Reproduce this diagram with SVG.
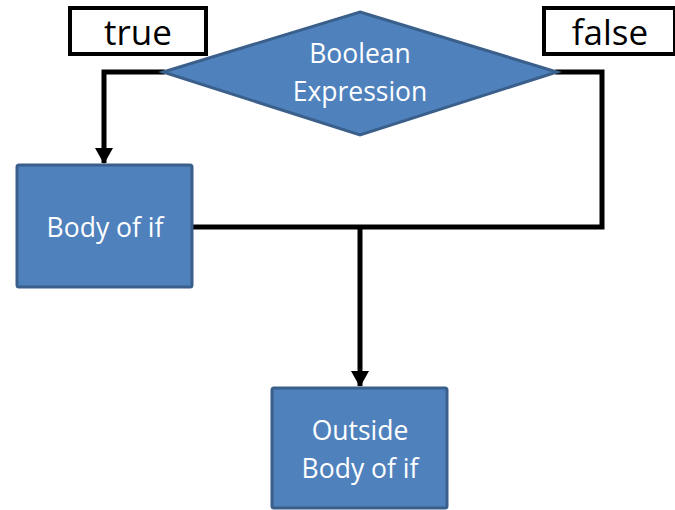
<svg xmlns="http://www.w3.org/2000/svg" width="675" height="510" viewBox="0 0 675 510">
<style>
.node{fill:#4F81BD;stroke:#3A5F8B;stroke-width:3}
.lbl{fill:#fff;font-family:"Open Sans","Liberation Sans",sans-serif;font-size:26.5px;text-anchor:middle}
.tag{fill:#fff;stroke:#000;stroke-width:4}
.tagt{fill:#000;font-family:"Open Sans","Liberation Sans",sans-serif;font-size:35px;text-anchor:middle}
.conn{fill:none;stroke:#000;stroke-width:5;stroke-linejoin:miter}
</style>
<defs>
<marker id="arr" markerWidth="4" markerHeight="4" refX="3" refY="2" orient="auto" markerUnits="strokeWidth">
<path d="M0,0.2 L3.2,2 L0,3.8 z" fill="#000"/>
</marker>
</defs>
<g id="true-label"><rect class="tag" x="70" y="8" width="136" height="46"/><text class="tagt" x="138" y="45">true</text></g>
<g id="false-label"><rect class="tag" x="544" y="8" width="131" height="46"/><text class="tagt" x="610" y="45">false</text></g>
<g id="connectors">
<polyline class="conn" points="165,72 104,72 104,163" marker-end="url(#arr)"/>
<polyline class="conn" points="555,72 602,72 602,227 192,227"/>
<polyline class="conn" points="360,227 360,386" marker-end="url(#arr)"/>
</g>
<g id="decision"><polygon class="node" points="360,12 557,72 360,135 163,72"/><text class="lbl" x="360" y="63">Boolean</text><text class="lbl" x="360" y="101">Expression</text></g>
<g id="body"><rect class="node" x="17" y="165" width="175" height="122" rx="2"/><text class="lbl" x="105" y="237">Body of if</text></g>
<g id="outside"><rect class="node" x="272" y="388" width="175" height="120" rx="2"/><text class="lbl" x="360" y="440">Outside</text><text class="lbl" x="360" y="478">Body of if</text></g>
</svg>
